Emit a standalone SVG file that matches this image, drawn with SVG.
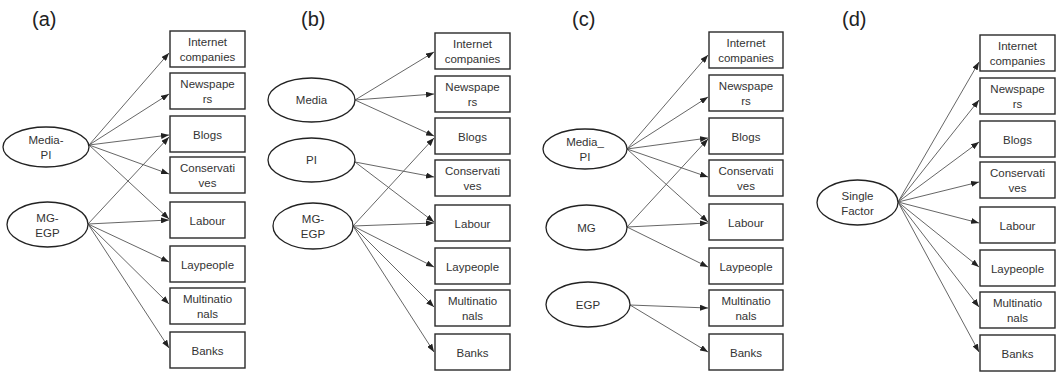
<svg xmlns="http://www.w3.org/2000/svg" width="1057" height="372" viewBox="0 0 1057 372">
  <style>
    .box { fill: #ffffff; stroke: #2a2a2a; stroke-width: 1.4; }
    .lat { fill: #ffffff; stroke: #222222; stroke-width: 1.3; }
    .t { font-family: "Liberation Sans", Arial, sans-serif; font-size: 11.5px; fill: #333333; text-anchor: middle; }
    .lbl { font-family: "Liberation Sans", Arial, sans-serif; font-size: 20px; fill: #222222; }
    .edges line { stroke: #555555; stroke-width: 0.9; marker-end: url(#arr); }
  </style>
  <defs>
    <marker id="arr" markerUnits="userSpaceOnUse" markerWidth="8" markerHeight="6" refX="8" refY="3" orient="auto">
      <path d="M0,0 L8,3 L0,6 z" fill="#222222"/>
    </marker>
  </defs>
  <rect width="1057" height="372" fill="#ffffff"/>

  <!-- panel labels -->
  <text class="lbl" x="32" y="26">(a)</text>
  <text class="lbl" x="301" y="26">(b)</text>
  <text class="lbl" x="572" y="26">(c)</text>
  <text class="lbl" x="842" y="26">(d)</text>

  <!-- connectors -->
  <g id="connectors" class="edges">
    <!-- (a) -->
    <line x1="89" y1="145" x2="169" y2="53"/>
    <line x1="89" y1="145" x2="169" y2="94"/>
    <line x1="89" y1="145" x2="169" y2="135"/>
    <line x1="89" y1="145" x2="169" y2="174"/>
    <line x1="89" y1="145" x2="169" y2="219"/>
    <line x1="88" y1="224" x2="169" y2="137"/>
    <line x1="88" y1="224" x2="169" y2="220"/>
    <line x1="88" y1="224" x2="169" y2="262"/>
    <line x1="88" y1="224" x2="169" y2="304"/>
    <line x1="88" y1="224" x2="169" y2="348"/>
    <!-- (b) -->
    <line x1="355" y1="100" x2="434" y2="52"/>
    <line x1="355" y1="100" x2="434" y2="94"/>
    <line x1="355" y1="100" x2="434" y2="136"/>
    <line x1="355" y1="162" x2="434" y2="177"/>
    <line x1="355" y1="162" x2="434" y2="222"/>
    <line x1="353" y1="226" x2="434" y2="138"/>
    <line x1="353" y1="226" x2="434" y2="223"/>
    <line x1="353" y1="226" x2="434" y2="267"/>
    <line x1="353" y1="226" x2="434" y2="307"/>
    <line x1="353" y1="226" x2="434" y2="352"/>
    <!-- (c) -->
    <line x1="627" y1="149" x2="708" y2="55"/>
    <line x1="627" y1="149" x2="708" y2="97"/>
    <line x1="627" y1="149" x2="708" y2="138"/>
    <line x1="627" y1="149" x2="708" y2="177"/>
    <line x1="627" y1="149" x2="708" y2="222"/>
    <line x1="627" y1="227" x2="708" y2="139"/>
    <line x1="627" y1="227" x2="708" y2="223"/>
    <line x1="627" y1="227" x2="708" y2="267"/>
    <line x1="630" y1="305" x2="708" y2="308"/>
    <line x1="630" y1="305" x2="708" y2="352"/>
    <!-- (d) -->
    <line x1="898" y1="202" x2="979" y2="62"/>
    <line x1="898" y1="202" x2="979" y2="100"/>
    <line x1="898" y1="202" x2="979" y2="142"/>
    <line x1="898" y1="202" x2="979" y2="182"/>
    <line x1="898" y1="202" x2="979" y2="223"/>
    <line x1="898" y1="202" x2="979" y2="267"/>
    <line x1="898" y1="202" x2="979" y2="307"/>
    <line x1="898" y1="202" x2="979" y2="352"/>
  </g>

  <!-- (a) latent factors -->
  <g id="a-media-pi"><ellipse class="lat" cx="46" cy="147" rx="43" ry="20"/><text class="t" x="46" y="144">Media-</text><text class="t" x="46" y="159">PI</text></g>
  <g id="a-mg-egp"><ellipse class="lat" cx="47.5" cy="224.5" rx="40.5" ry="22.5"/><text class="t" x="47.5" y="221.5">MG-</text><text class="t" x="47.5" y="236.5">EGP</text></g>

  <!-- (a) indicators -->
  <g id="a-internet"><rect class="box" x="170" y="31" width="75" height="36"/><text class="t" x="207.5" y="46">Internet</text><text class="t" x="207.5" y="61">companies</text></g>
  <g id="a-newspapers"><rect class="box" x="170" y="73" width="75" height="36"/><text class="t" x="207.5" y="88">Newspape</text><text class="t" x="207.5" y="103">rs</text></g>
  <g id="a-blogs"><rect class="box" x="170" y="116" width="75" height="36"/><text class="t" x="207.5" y="139">Blogs</text></g>
  <g id="a-conservatives"><rect class="box" x="170" y="157" width="75" height="36"/><text class="t" x="207.5" y="172">Conservati</text><text class="t" x="207.5" y="187">ves</text></g>
  <g id="a-labour"><rect class="box" x="170" y="202" width="75" height="36"/><text class="t" x="207.5" y="225">Labour</text></g>
  <g id="a-laypeople"><rect class="box" x="170" y="246" width="75" height="36"/><text class="t" x="207.5" y="269">Laypeople</text></g>
  <g id="a-multinationals"><rect class="box" x="170" y="288" width="75" height="36"/><text class="t" x="207.5" y="303">Multinatio</text><text class="t" x="207.5" y="318">nals</text></g>
  <g id="a-banks"><rect class="box" x="170" y="332" width="75" height="36"/><text class="t" x="207.5" y="355">Banks</text></g>

  <!-- (b) latent factors -->
  <g id="b-media"><ellipse class="lat" cx="311.5" cy="100" rx="43.5" ry="22"/><text class="t" x="311.5" y="104">Media</text></g>
  <g id="b-pi"><ellipse class="lat" cx="311.5" cy="160" rx="43.5" ry="22"/><text class="t" x="311.5" y="164">PI</text></g>
  <g id="b-mg-egp"><ellipse class="lat" cx="313" cy="226" rx="40" ry="23"/><text class="t" x="313" y="223">MG-</text><text class="t" x="313" y="238">EGP</text></g>

  <!-- (b) indicators -->
  <g id="b-internet"><rect class="box" x="435" y="33" width="75" height="36"/><text class="t" x="472.5" y="48">Internet</text><text class="t" x="472.5" y="63">companies</text></g>
  <g id="b-newspapers"><rect class="box" x="435" y="76" width="75" height="36"/><text class="t" x="472.5" y="91">Newspape</text><text class="t" x="472.5" y="106">rs</text></g>
  <g id="b-blogs"><rect class="box" x="435" y="118" width="75" height="36"/><text class="t" x="472.5" y="141">Blogs</text></g>
  <g id="b-conservatives"><rect class="box" x="435" y="160" width="75" height="36"/><text class="t" x="472.5" y="175">Conservati</text><text class="t" x="472.5" y="190">ves</text></g>
  <g id="b-labour"><rect class="box" x="435" y="205" width="75" height="36"/><text class="t" x="472.5" y="228">Labour</text></g>
  <g id="b-laypeople"><rect class="box" x="435" y="248" width="75" height="36"/><text class="t" x="472.5" y="271">Laypeople</text></g>
  <g id="b-multinationals"><rect class="box" x="435" y="290" width="75" height="36"/><text class="t" x="472.5" y="305">Multinatio</text><text class="t" x="472.5" y="320">nals</text></g>
  <g id="b-banks"><rect class="box" x="435" y="334" width="75" height="36"/><text class="t" x="472.5" y="357">Banks</text></g>

  <!-- (c) latent factors -->
  <g id="c-media-pi"><ellipse class="lat" cx="585" cy="149" rx="42" ry="20"/><text class="t" x="585" y="146">Media_</text><text class="t" x="585" y="161">PI</text></g>
  <g id="c-mg"><ellipse class="lat" cx="586.5" cy="227.5" rx="40.5" ry="22.5"/><text class="t" x="586.5" y="231.5">MG</text></g>
  <g id="c-egp"><ellipse class="lat" cx="588" cy="304.5" rx="42" ry="22.5"/><text class="t" x="588" y="308.5">EGP</text></g>

  <!-- (c) indicators -->
  <g id="c-internet"><rect class="box" x="709" y="32" width="74" height="36"/><text class="t" x="746" y="47">Internet</text><text class="t" x="746" y="62">companies</text></g>
  <g id="c-newspapers"><rect class="box" x="709" y="75" width="74" height="36"/><text class="t" x="746" y="90">Newspape</text><text class="t" x="746" y="105">rs</text></g>
  <g id="c-blogs"><rect class="box" x="709" y="118" width="74" height="36"/><text class="t" x="746" y="141">Blogs</text></g>
  <g id="c-conservatives"><rect class="box" x="709" y="160" width="74" height="36"/><text class="t" x="746" y="175">Conservati</text><text class="t" x="746" y="190">ves</text></g>
  <g id="c-labour"><rect class="box" x="709" y="204" width="74" height="36"/><text class="t" x="746" y="227">Labour</text></g>
  <g id="c-laypeople"><rect class="box" x="709" y="248" width="74" height="36"/><text class="t" x="746" y="271">Laypeople</text></g>
  <g id="c-multinationals"><rect class="box" x="709" y="290" width="74" height="36"/><text class="t" x="746" y="305">Multinatio</text><text class="t" x="746" y="320">nals</text></g>
  <g id="c-banks"><rect class="box" x="709" y="334" width="74" height="36"/><text class="t" x="746" y="357">Banks</text></g>

  <!-- (d) single factor -->
  <g id="d-single-factor"><ellipse class="lat" cx="857.5" cy="202.5" rx="40.5" ry="22.5"/><text class="t" x="857.5" y="199.5">Single</text><text class="t" x="857.5" y="214.5">Factor</text></g>

  <!-- (d) indicators -->
  <g id="d-internet"><rect class="box" x="980" y="35" width="75" height="36"/><text class="t" x="1017.5" y="50">Internet</text><text class="t" x="1017.5" y="65">companies</text></g>
  <g id="d-newspapers"><rect class="box" x="980" y="78" width="75" height="36"/><text class="t" x="1017.5" y="93">Newspape</text><text class="t" x="1017.5" y="108">rs</text></g>
  <g id="d-blogs"><rect class="box" x="980" y="121" width="75" height="36"/><text class="t" x="1017.5" y="144">Blogs</text></g>
  <g id="d-conservatives"><rect class="box" x="980" y="162" width="75" height="36"/><text class="t" x="1017.5" y="177">Conservati</text><text class="t" x="1017.5" y="192">ves</text></g>
  <g id="d-labour"><rect class="box" x="980" y="207" width="75" height="36"/><text class="t" x="1017.5" y="230">Labour</text></g>
  <g id="d-laypeople"><rect class="box" x="980" y="250" width="75" height="36"/><text class="t" x="1017.5" y="273">Laypeople</text></g>
  <g id="d-multinationals"><rect class="box" x="980" y="292" width="75" height="36"/><text class="t" x="1017.5" y="307">Multinatio</text><text class="t" x="1017.5" y="322">nals</text></g>
  <g id="d-banks"><rect class="box" x="980" y="335" width="75" height="36"/><text class="t" x="1017.5" y="358">Banks</text></g>
</svg>
